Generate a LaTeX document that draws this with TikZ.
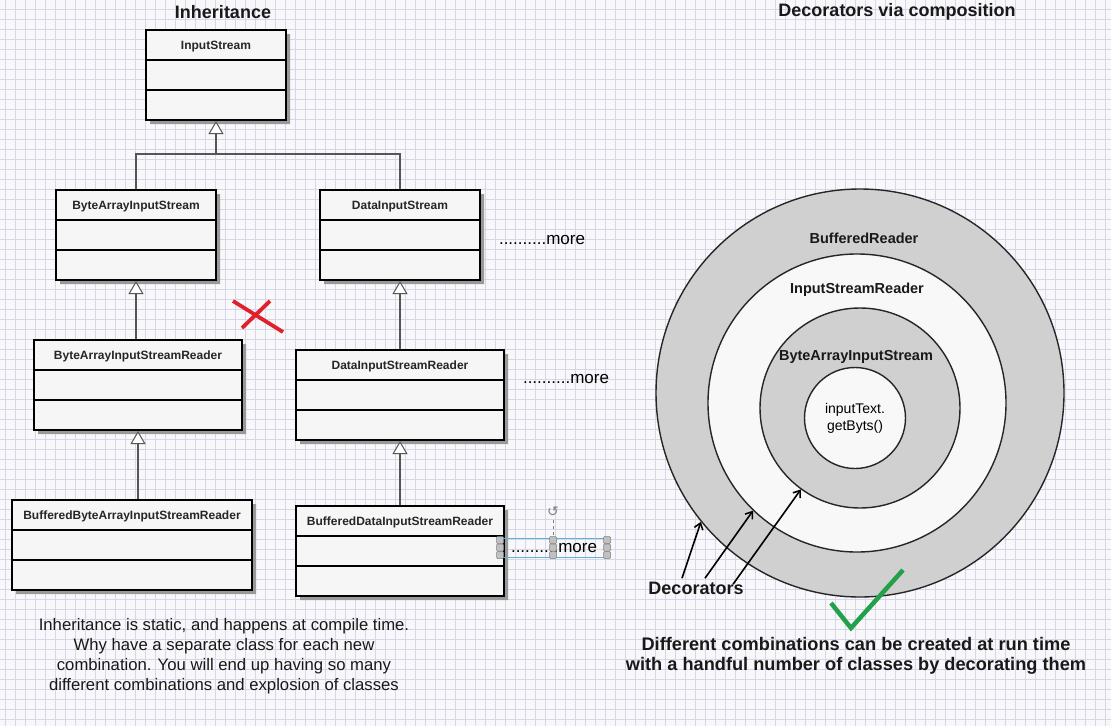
\documentclass[tikz,border=0pt]{standalone}
\usepackage{fontspec}
\setmainfont{Liberation Sans}
\newfontfamily\symbolfont{DejaVu Sans}
\usetikzlibrary{shapes.multipart,shadows,arrows.meta}

\definecolor{paper}{RGB}{248,248,251}
\definecolor{gridline}{RGB}{214,214,232}
\definecolor{boxfill}{RGB}{246,246,246}
\definecolor{ringgray}{RGB}{208,208,208}
\definecolor{ringwhite}{RGB}{248,248,248}
\definecolor{linkgray}{RGB}{85,85,85}
\definecolor{crossred}{RGB}{226,32,44}
\definecolor{tickgreen}{RGB}{34,160,74}
\definecolor{selblue}{RGB}{90,180,216}
\definecolor{handlegray}{RGB}{192,192,192}

\tikzset{
  classbox/.style={rectangle split, rectangle split parts=3, draw, line width=2pt,
    fill=boxfill, anchor=north west, inner xsep=0pt, inner ysep=0pt, align=center,
    font=\fontsize{12}{14}\selectfont\bfseries, text=black!85,
    drop shadow={shadow xshift=4pt, shadow yshift=-4pt, fill=black!40, opacity=1}},
  link/.style={draw=linkgray, line width=1.6pt},
  inherit/.style={link, -{Triangle[width=15pt,length=13pt,fill=white,line width=1pt]}},
  heading/.style={font=\fontsize{18}{20}\selectfont\bfseries, text=black!90},
  more/.style={font=\fontsize{17}{20}\selectfont},
  ring/.style={circle, draw=black!85, line width=1.4pt, inner sep=0pt},
  ringlabel/.style={font=\fontsize{14.5}{16}\selectfont\bfseries, text=black!90},
  pointer/.style={line width=1.6pt, -{Straight Barb[length=6pt,width=9pt]}},
  cross/.style={draw=crossred, line width=3.8pt},
  tick/.style={draw=tickgreen, line width=4.5pt},
  handle/.style={draw=gray, fill=handlegray, rounded corners=1pt, line width=0.5pt},
}

\newcommand{\classname}[1]{\rule[-10pt]{0pt}{28pt}#1\nodepart{two}\rule{0pt}{28pt}\nodepart{three}\rule{0pt}{28pt}}

\begin{document}
\begin{tikzpicture}[x=1pt,y=-1pt]
  \useasboundingbox (0,0) rectangle (1111,726);
  \fill[paper] (0,0) rectangle (1111,726);
  \foreach \gx in {5,15,...,1105} \draw[gridline, line width=0.8pt] (\gx,0) -- (\gx,726);
  \foreach \gy in {9,19,...,719} \draw[gridline, line width=0.8pt] (0,\gy) -- (1111,\gy);

  \node[heading] (inhtitle) at (223,12) {Inheritance};
  \node[heading] (dectitle) at (897,12) {Decorators via composition};

  \node[classbox, text width=140pt] (instream) at (145,29) {\classname{InputStream}};
  \node[classbox, text width=160pt] (bais) at (55,189) {\classname{ByteArrayInputStream}};
  \node[classbox, text width=160pt] (dis) at (319,189) {\classname{DataInputStream}};
  \node[classbox, text width=208pt] (baisr) at (33,339) {\classname{ByteArrayInputStreamReader}};
  \node[classbox, text width=208pt] (disr) at (295,349) {\classname{DataInputStreamReader}};
  \node[classbox, text width=240pt] (bbaisr) at (11,499) {\classname{BufferedByteArrayInputStreamReader}};
  \node[classbox, text width=208pt] (bdisr) at (295,505) {\classname{BufferedDataInputStreamReader}};

  \coordinate (fork) at (instream.south |- 0,154);
  \draw[link] (bais.north) |- (fork) -| (dis.north);
  \draw[inherit] (fork) -- (instream.south);
  \draw[inherit] (bais.south |- baisr.north) -- (bais.south);
  \draw[inherit] (bbaisr.north -| baisr.south) -- (baisr.south);
  \draw[inherit] (disr.north) -- (dis.south);
  \draw[inherit] (bdisr.north) -- (disr.south);

  \node[more] (more1) at (542,240) {..........more};
  \node[more] (more2) at (566,379) {..........more};
  \node[more] (more3) at (554,548) {..........more};

  \draw[selblue, line width=0.8pt] (500,538) rectangle (607,557);
  \draw[gray, dashed, line width=0.8pt] (553,520) -- (553,540);
  \node[text=gray] (spin) at (553,512) {\symbolfont\fontsize{14}{14}\selectfont ↺};
  \foreach \hx in {500,553,607}
    \foreach \hy in {540,547.5,555}
      \filldraw[handle] (\hx-3.5,\hy-3.5) rectangle (\hx+3.5,\hy+3.5);

  \draw[cross] (233,301) -- (283,332);
  \draw[cross] (270,301) -- (242,328);

  \node[ring, fill=ringgray, minimum size=408pt] (outer) at (860,393) {};
  \node[ring, fill=ringwhite, minimum size=298pt] (middle) at (857,403) {};
  \node[ring, fill=ringgray, minimum size=200pt] (inner) at (860,408) {};
  \node[ring, fill=ringwhite, minimum size=101pt, align=center,
    font=\fontsize{14}{17}\selectfont] (core) at (855,418) {inputText.\\getByts()};

  \node[ringlabel] (bufname) at (864,238) {BufferedReader};
  \node[ringlabel] (isrname) at (857,290) {InputStreamReader};
  \node[ringlabel] (baisname) at (856,357) {ByteArrayInputStream};

  \node[heading] (deco) at (696,588) {Decorators};
  \draw[pointer] ([xshift=-14pt]deco.north) -- (outer.219);
  \draw[pointer] ([xshift=9pt]deco.north) -- (middle.226);
  \draw[pointer] ([xshift=-14pt,yshift=-6pt]deco.north east) -- (inner.234);

  \draw[tick] (831,603) -- (851,628) -- (903,570);

  \node[align=center, font=\fontsize{16.7}{20}\selectfont, text=black!90] (why) at (224,656)
    {Inheritance is static, and happens at compile time.\\Why have a separate class for each new\\combination. You will end up having so many\\different combinations and explosion of classes};
  \node[align=center, font=\fontsize{18.2}{20}\selectfont\bfseries, text=black!90] (gain) at (856,656)
    {Different combinations can be created at run time\\with a handful number of classes by decorating them};
\end{tikzpicture}
\end{document}
